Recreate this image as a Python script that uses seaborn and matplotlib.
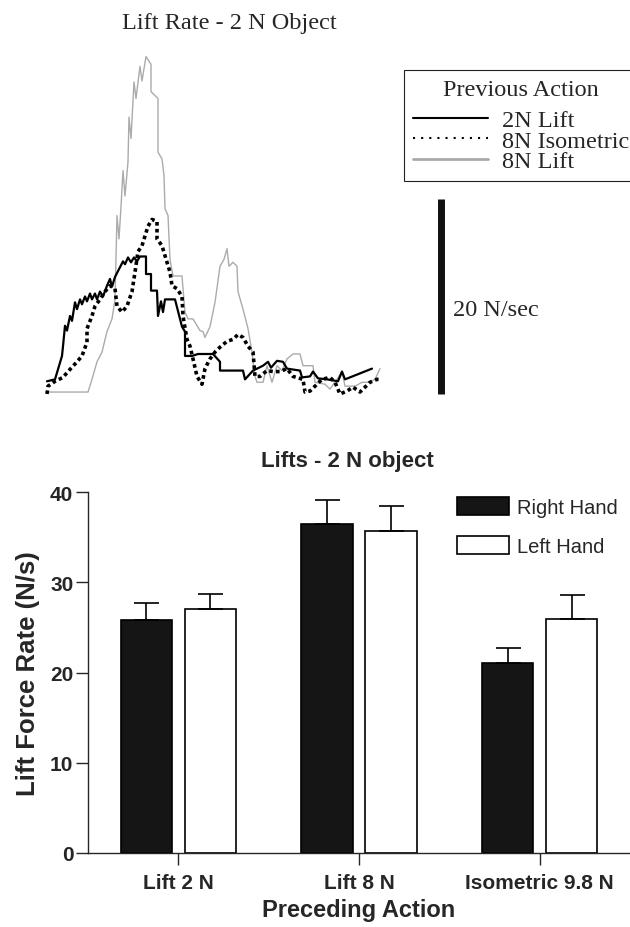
import numpy as np
import pandas as pd
import matplotlib
matplotlib.use("Agg")
import matplotlib.pyplot as plt
from matplotlib.lines import Line2D
from matplotlib.patches import Patch
import seaborn as sns

# ---- top panel: lift force rate traces (time in ms, rate in N/s) ----
lift2_t = [0, 24, 45, 48, 54, 60, 69, 75, 84, 90, 99, 105, 114, 120, 129, 135, 144, 150,
           159, 168, 180, 189, 195, 204, 219, 228, 234, 243, 252, 261, 270, 279, 297, 297,
           312, 312, 330, 333, 342, 348, 354, 384, 405, 414, 414, 435, 453, 498, 519, 519,
           588, 594, 618, 648, 663, 672, 690, 708, 720, 759, 765, 789, 798, 813, 840, 873,
           885, 894, 975]
lift2_v = [1.1, 1.3, 3.7, 4.7, 6.8, 6.3, 7.8, 7.3, 9.2, 8.5, 9.5, 9.0, 9.8, 9.3, 10.1, 9.5,
           10.1, 9.5, 10.3, 9.8, 10.9, 11.6, 10.8, 11.8, 12.8, 13.4, 13.1, 13.8, 13.3, 13.8,
           13.4, 13.9, 13.9, 12.1, 12.1, 10.4, 10.4, 7.8, 9.3, 8.2, 9.5, 9.5, 6.7, 6.2, 3.7,
           3.7, 3.9, 3.9, 3.1, 2.2, 2.2, 1.3, 2.2, 2.7, 3.1, 2.5, 3.2, 3.1, 2.4, 2.2, 1.5,
           1.6, 2.1, 1.4, 1.3, 1.1, 2.1, 1.3, 2.4]

iso8_t = [0, 3, 24, 48, 63, 90, 105, 120, 120, 135, 144, 159, 174, 189, 204, 210, 225, 240,
          255, 264, 273, 285, 294, 303, 315, 330, 330, 345, 360, 369, 375, 390, 405, 408,
          420, 429, 438, 450, 465, 474, 489, 504, 519, 540, 558, 573, 588, 603, 618, 624,
          639, 660, 678, 699, 720, 738, 768, 774, 789, 804, 825, 849, 864, 879, 900, 918,
          939, 954, 969, 990, 999]
iso8_v = [-0.2, 0.6, 1.1, 1.5, 2.1, 3.1, 3.7, 5.1, 6.5, 7.8, 8.8, 9.5, 10.3, 10.9, 10.6, 8.8,
          8.2, 8.8, 10.3, 12.3, 14.4, 15.0, 16.0, 17.0, 17.7, 17.5, 15.7, 15.0, 13.3, 12.3,
          10.9, 10.6, 9.8, 7.8, 5.4, 4.7, 3.4, 1.6, 0.8, 2.4, 3.4, 4.1, 4.6, 5.2, 5.4, 5.9,
          5.6, 4.7, 4.1, 1.6, 1.6, 2.2, 2.1, 2.1, 2.4, 1.6, 1.3, 0.0, 0.1, 0.6, 1.3, 1.5,
          1.0, -0.2, 0.1, 0.5, 0.0, 0.5, 1.0, 1.3, 1.3]

lift8_t = [0, 123, 135, 150, 165, 180, 195, 204, 210, 216, 222, 228, 234, 243, 246, 252, 261,
           267, 279, 285, 297, 312, 312, 333, 333, 345, 351, 354, 363, 369, 378, 405, 408,
           414, 423, 438, 459, 468, 474, 489, 504, 519, 531, 540, 546, 558, 570, 573, 588,
           603, 615, 624, 630, 648, 660, 675, 690, 705, 720, 738, 759, 768, 798, 804, 834,
           849, 870, 885, 894, 924, 945, 969, 984, 999]
lift8_v = [0.0, 0.0, 1.3, 3.1, 4.1, 6.2, 7.5, 9.5, 18.1, 15.7, 19.0, 22.7, 20.1, 23.6, 28.2,
           26.0, 31.8, 30.1, 33.4, 31.9, 34.4, 33.6, 30.8, 30.1, 24.6, 23.9, 22.2, 18.8, 18.1,
           13.6, 11.9, 11.9, 10.6, 8.2, 7.5, 7.5, 6.3, 6.2, 5.6, 6.7, 9.2, 12.9, 13.6, 14.7,
           12.9, 13.3, 12.9, 10.3, 8.5, 6.5, 4.1, 1.6, 1.0, 1.0, 2.7, 1.0, 2.7, 2.2, 3.4, 3.9,
           3.9, 2.7, 2.7, 1.0, 0.8, 0.3, 1.3, 2.1, 0.6, 0.6, 1.0, 1.0, 1.3, 2.4]

trace_labels = ["2N Lift", "8N Isometric", "8N Lift"]
scale_bar = 20  # N/s

# ---- bottom panel: mean lift force rate ----
actions = ["Lift 2 N", "Lift 8 N", "Isometric 9.8 N"]
hands = ["Right Hand", "Left Hand"]
right_hand = [25.8, 36.5, 21.1]
left_hand = [27.1, 35.7, 25.9]
right_err = [1.9, 2.7, 1.6]
left_err = [1.6, 2.8, 2.7]

sns.set_style("ticks")
plt.rcParams["font.family"] = ["Liberation Sans", "DejaVu Sans"]
serif = ["Liberation Serif", "DejaVu Serif"]

fig = plt.figure(figsize=(6.3, 9.28), dpi=100)
W, H = 630, 928

# top panel
ax1 = fig.add_axes([0, 1 - 410 / H, 1, 370 / H])
sns.lineplot(x=lift8_t, y=lift8_v, ax=ax1, color="#ababab", lw=1.0,
             estimator=None, sort=False)
sns.lineplot(x=lift2_t, y=lift2_v, ax=ax1, color="black", lw=1.6,
             estimator=None, sort=False)
sns.lineplot(x=iso8_t, y=iso8_v, ax=ax1, color="black", lw=2.6,
             linestyle=(0, (1, 0.9)), estimator=None, sort=False)
ax1.set_xlim(-141, 1749)
ax1.set_ylim(-1.74, 36.2)
ax1.axis("off")

bar_x = 1182
ax1.plot([bar_x, bar_x], [-0.2, -0.2 + scale_bar], color="#111111", lw=5,
         solid_capstyle="butt")
ax1.text(bar_x + 36, 8.5, f"{scale_bar} N/sec", family=serif, fontsize=17.5,
         va="center", ha="left")

fig.text(229 / W, 1 - 23 / H, "Lift Rate - 2 N Object", family=serif, fontsize=17.5,
         ha="center", va="center")

handles = [Line2D([], [], color="black", lw=1.5),
           Line2D([], [], color="black", lw=1.5, ls=(0, (1, 2.9))),
           Line2D([], [], color="#aaaaaa", lw=2)]
leg = ax1.legend(handles, trace_labels, title="Previous Action", loc="upper left",
                 bbox_to_anchor=(404 / W, 1 - 71 / H), bbox_transform=fig.transFigure,
                 prop={"family": serif, "size": 17.5},
                 title_fontproperties={"family": serif, "size": 17.5},
                 frameon=True, fancybox=False, edgecolor="#222222", framealpha=1,
                 handlelength=3.1, handletextpad=0.6, labelspacing=-0.06,
                 borderpad=0.35, borderaxespad=0)
leg.get_frame().set_linewidth(0.8)
leg._legend_box.sep = 7.0

# bottom panel
ax2 = fig.add_axes([88 / W, 1 - 854 / H, 1 - 88 / W, 360.7 / H])
df = pd.DataFrame({
    "action": actions * 2,
    "hand": [hands[0]] * 3 + [hands[1]] * 3,
    "rate": right_hand + left_hand,
})
sns.barplot(data=df, x="action", y="rate", hue="hand", hue_order=hands,
            palette={hands[0]: "#151515", hands[1]: "white"}, edgecolor="black",
            linewidth=1.2, width=0.71, gap=0.2, errorbar=None, legend=False, ax=ax2)

for cont, err in zip(ax2.containers, [right_err, left_err]):
    xs = [b.get_x() + b.get_width() / 2 for b in cont]
    ys = [b.get_height() for b in cont]
    ax2.errorbar(xs, ys, yerr=[np.zeros(len(err)), err], fmt="none", ecolor="black",
                 elinewidth=1.2, capsize=9, capthick=1.2)

ax2.set_xlim(-0.5, 2.5)
ax2.set_ylim(0, 40)
ax2.set_yticks([0, 10, 20, 30, 40])
sns.despine(ax=ax2)
for s in ["left", "bottom"]:
    ax2.spines[s].set_linewidth(1.0)
ax2.tick_params(axis="both", direction="out", length=8.6, width=1.0, labelsize=15)
ax2.tick_params(axis="y", pad=2)
ax2.tick_params(axis="x", pad=6)
for lab in ax2.get_xticklabels() + ax2.get_yticklabels():
    lab.set_fontweight("bold")

ax2.set_xlabel("Preceding Action", fontsize=17, fontweight="bold", labelpad=4)
ax2.set_ylabel("Lift Force Rate (N/s)", fontsize=18.5, fontweight="bold", labelpad=7)
ax2.set_title("Lifts - 2 N object", fontsize=16, fontweight="bold",
              x=(347 - 88) / (W - 88), pad=19)

bar_handles = [Patch(facecolor="#151515", edgecolor="black", lw=1.2),
               Patch(facecolor="white", edgecolor="black", lw=1.2)]
ax2.legend(bar_handles, hands, loc="upper left",
           bbox_to_anchor=((457 - 88) / (W - 88), (854 - 498) / 360.7),
           frameon=False, fontsize=14.5, handlelength=2.6, handleheight=1.0,
           handletextpad=0.4, labelspacing=0.95, borderpad=0, borderaxespad=0)

fig.savefig("out.png", dpi=100)
